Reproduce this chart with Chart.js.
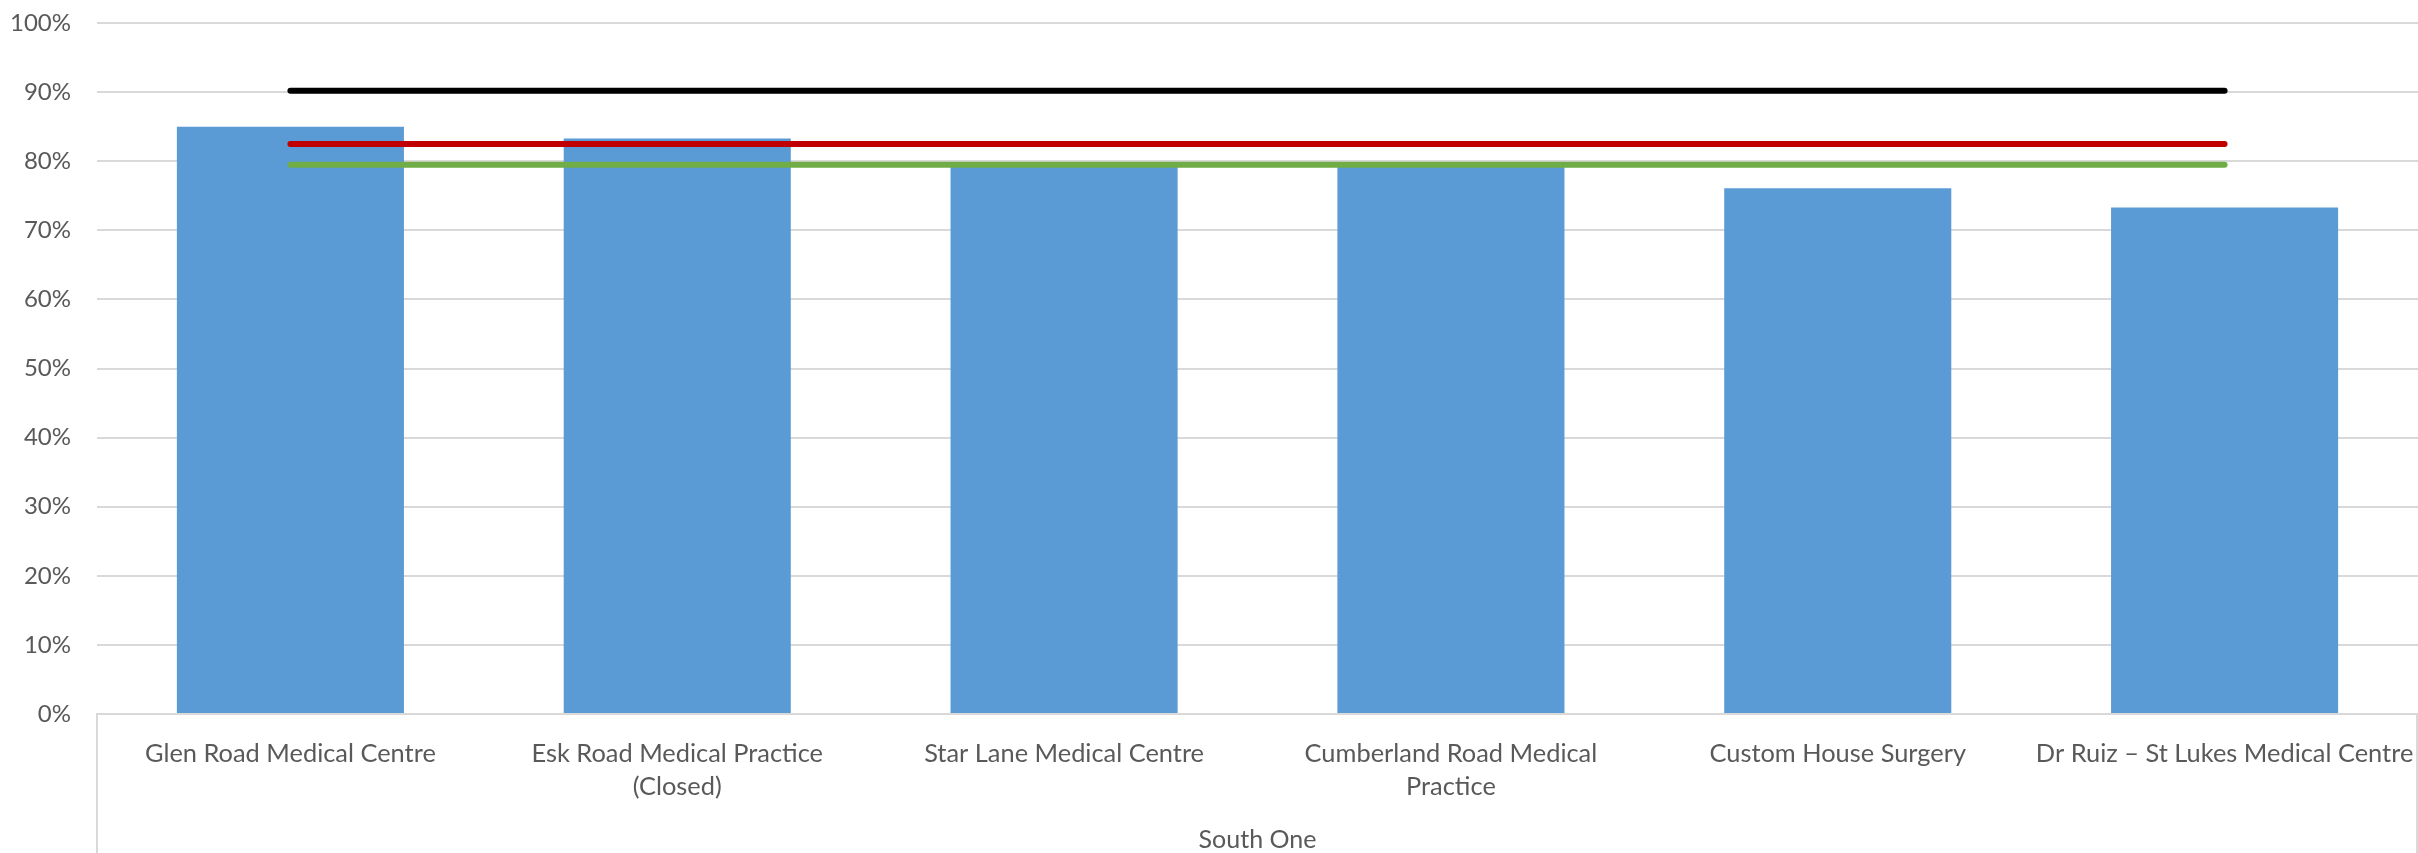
<!DOCTYPE html>
<html>
<head>
<meta charset="utf-8">
<title>South One practices</title>
<script src="https://cdn.jsdelivr.net/npm/chart.js@4"></script>
<style>
    html, body { margin: 0; padding: 0; background: #fff; }
    #wrap { width: 2418px; height: 853px; position: relative; }
</style>
</head>
<body>
<div id="wrap"><canvas id="practiceChart"></canvas></div>
<script>
// practices in the South One group (multi-line where the original wraps)
const practices = [
    'Glen Road Medical Centre',
    ['Esk Road Medical Practice', '(Closed)'],
    'Star Lane Medical Centre',
    ['Cumberland Road Medical', 'Practice'],
    'Custom House Surgery',
    'Dr Ruiz – St Lukes Medical Centre'
];
const groupName = 'South One';

// practice values, percent
const practiceValues = [85.0, 83.3, 79.8, 79.9, 76.1, 73.3];

// reference lines, percent
const blackLine = [90.2, 90.2, 90.2, 90.2, 90.2, 90.2];
const redLine = [82.5, 82.5, 82.5, 82.5, 82.5, 82.5];
const greenLine = [79.5, 79.5, 79.5, 79.5, 79.5, 79.5];

const yTicks = [0, 10, 20, 30, 40, 50, 60, 70, 80, 90, 100];

Chart.defaults.font.family = 'Lato, "Liberation Sans", sans-serif';
Chart.defaults.font.size = 24;
Chart.defaults.color = '#595959';

// vertical borders of the group box below the axis (Excel multi-level axis)
const groupFrame = {
    id: 'groupFrame',
    afterDraw(chart) {
        const { ctx, chartArea } = chart;
        ctx.save();
        ctx.strokeStyle = '#d9d9d9';
        ctx.lineWidth = 2;
        ctx.beginPath();
        ctx.moveTo(chartArea.left, chartArea.bottom);
        ctx.lineTo(chartArea.left, chart.height);
        ctx.moveTo(chartArea.right - 1, chartArea.bottom);
        ctx.lineTo(chartArea.right - 1, chart.height);
        ctx.stroke();
        ctx.restore();
    }
};

function lineSet(data, colour, order) {
    return {
        type: 'line',
        data: data,
        borderColor: colour,
        backgroundColor: colour,
        borderWidth: 6,
        borderCapStyle: 'round',
        pointRadius: 0,
        fill: false,
        order: order
    };
}

new Chart(document.getElementById('practiceChart'), {
    type: 'bar',
    data: {
        labels: practices,
        datasets: [
            {
                data: practiceValues,
                backgroundColor: '#5b9bd5',
                borderWidth: 0,
                barPercentage: 0.587,
                categoryPercentage: 1,
                order: 10
            },
            lineSet(blackLine, '#000000', 3),
            lineSet(redLine, '#c00000', 2),
            lineSet(greenLine, '#70ad47', 1)
        ]
    },
    options: {
        responsive: true,
        maintainAspectRatio: false,
        animation: false,
        layout: { padding: { top: 23, right: 0, bottom: 0, left: 0 } },
        plugins: {
            legend: { display: false },
            tooltip: { enabled: false }
        },
        scales: {
            x: {
                grid: { display: false },
                border: { display: true, color: '#d9d9d9', width: 2 },
                ticks: {
                    maxRotation: 0,
                    autoSkip: false,
                    padding: 15,
                    font: { size: 25.4, lineHeight: 1.32 }
                },
                title: {
                    display: true,
                    text: groupName,
                    font: { size: 25, lineHeight: 1 },
                    padding: { top: 0, bottom: 1 }
                },
                afterFit: (scale) => {
                    scale.height = 139;
                    scale.paddingLeft = 0;
                    scale.paddingRight = 0;
                }
            },
            y: {
                min: 0,
                max: 100,
                afterBuildTicks: (scale) => {
                    scale.ticks = yTicks.map(v => ({ value: v }));
                },
                grid: { color: '#d9d9d9', lineWidth: 2, drawTicks: false },
                border: { display: false },
                ticks: {
                    padding: 26,
                    callback: (v) => v + '%'
                },
                afterFit: (scale) => {
                    scale.width = 97;
                    scale.paddingTop = 0;
                    scale.paddingBottom = 0;
                }
            }
        }
    },
    plugins: [groupFrame]
});
</script>
</body>
</html>
